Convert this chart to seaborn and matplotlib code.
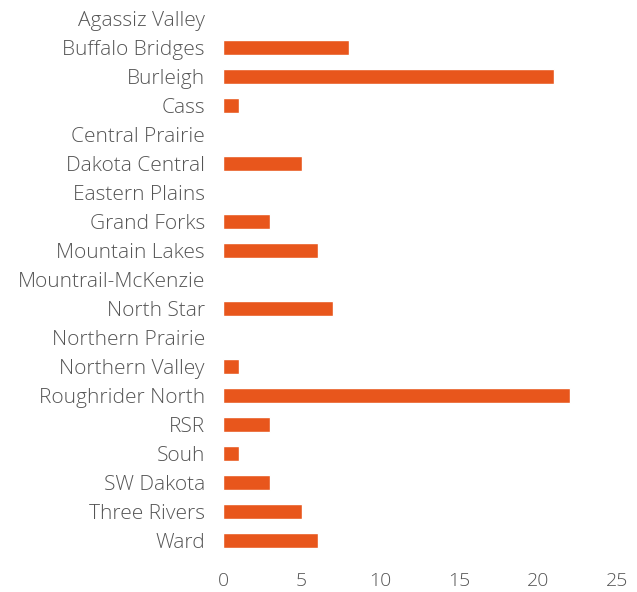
import pandas as pd
import matplotlib.pyplot as plt
import seaborn as sns

regions = ['Agassiz Valley', 'Buffalo Bridges', 'Burleigh', 'Cass', 'Central Prairie',
           'Dakota Central', 'Eastern Plains', 'Grand Forks', 'Mountain Lakes',
           'Mountrail-McKenzie', 'North Star', 'Northern Prairie', 'Northern Valley',
           'Roughrider North', 'RSR', 'Souh', 'SW Dakota', 'Three Rivers', 'Ward']
counts = [0, 8, 21, 1, 0, 5, 0, 3, 6, 0, 7, 0, 1, 22, 3, 1, 3, 5, 6]

df = pd.DataFrame({'region': regions, 'count': counts})

sns.set_style('white')
plt.rcParams['font.family'] = ['Open Sans', 'DejaVu Sans']
plt.rcParams['font.weight'] = 'light'

fig = plt.figure(figsize=(6.37, 5.92), dpi=100)
ax = fig.add_axes([0.350, 0.062, 0.6185, 0.931])
sns.barplot(data=df, x='count', y='region', color='#E8561C', saturation=1,
            width=0.52, ax=ax)

ax.set_xlim(0, 25)
ax.set_xticks([0, 5, 10, 15, 20, 25])
ax.set_xlabel('')
ax.set_ylabel('')
ax.tick_params(axis='both', length=0, labelcolor='#555555')
ax.tick_params(axis='x', pad=12, labelsize=14)
ax.tick_params(axis='y', pad=13, labelsize=15)
for lab in ax.get_xticklabels() + ax.get_yticklabels():
    lab.set_fontweight('light')
for s in ax.spines.values():
    s.set_visible(False)

plt.savefig('out.png', dpi=100)
